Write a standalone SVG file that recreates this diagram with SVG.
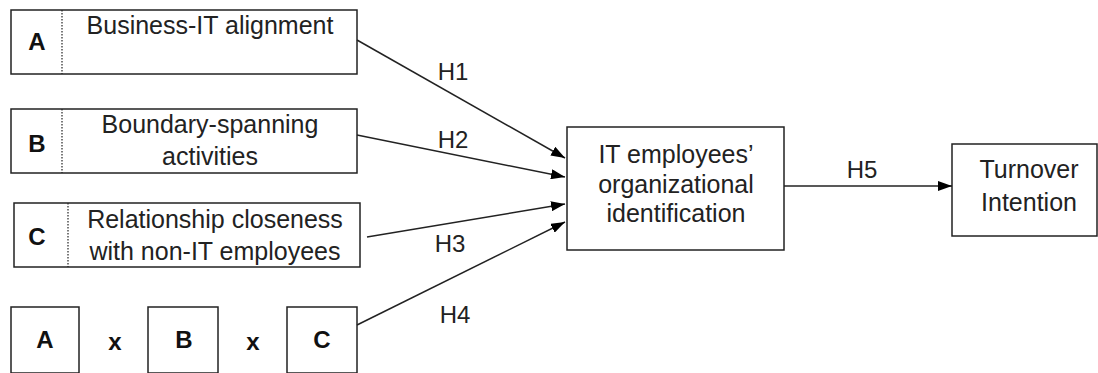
<svg xmlns="http://www.w3.org/2000/svg" width="1098" height="373" viewBox="0 0 1098 373">
<defs>
<marker id="arr" viewBox="0 0 14 10" refX="14" refY="5" markerWidth="14" markerHeight="10" markerUnits="userSpaceOnUse" orient="auto">
<path d="M0,0 L14,5 L0,10 Z" fill="#000"/>
</marker>
</defs>
<style>
.box{fill:#fff;stroke:#222;stroke-width:1.5}
.dot{stroke:#222;stroke-width:1.2;stroke-dasharray:1.5,1.5}
.t{font-family:"Liberation Sans",Arial,sans-serif;font-size:25px;fill:#222;text-anchor:middle}
.b{font-family:"Liberation Sans",Arial,sans-serif;font-size:24px;font-weight:bold;fill:#111;text-anchor:middle}
.h{font-family:"Liberation Sans",Arial,sans-serif;font-size:24px;fill:#222;text-anchor:middle}
.ln{stroke:#222;stroke-width:1.5;fill:none;marker-end:url(#arr)}
</style>
<g id="nodeA">
<rect class="box" x="11" y="10" width="346" height="64"/>
<line class="dot" x1="62" y1="10" x2="62" y2="74"/>
<text class="b" x="37" y="50">A</text>
<text class="t" x="210" y="34">Business-IT alignment</text>
</g>
<g id="nodeB">
<rect class="box" x="11" y="109" width="346" height="64"/>
<line class="dot" x1="62" y1="109" x2="62" y2="173"/>
<text class="b" x="37" y="152">B</text>
<text class="t" x="210" y="133">Boundary-spanning</text>
<text class="t" x="210" y="165">activities</text>
</g>
<g id="nodeC">
<rect class="box" x="14" y="203" width="346" height="64"/>
<line class="dot" x1="68" y1="203" x2="68" y2="267"/>
<text class="b" x="37" y="245">C</text>
<text class="t" x="215" y="228">Relationship closeness</text>
<text class="t" x="215" y="260">with non-IT employees</text>
</g>
<g id="nodeABC">
<rect class="box" x="11" y="307" width="68" height="66"/>
<text class="b" x="45" y="348">A</text>
<text class="b" x="115" y="350">x</text>
<rect class="box" x="148" y="307" width="70" height="66"/>
<text class="b" x="184" y="348">B</text>
<text class="b" x="253" y="350">x</text>
<rect class="box" x="287" y="307" width="70" height="66"/>
<text class="b" x="322" y="348">C</text>
</g>
<g id="nodeOI">
<rect class="box" x="567" y="127" width="217" height="123"/>
<text class="t" x="676" y="163">IT employees’</text>
<text class="t" x="676" y="193">organizational</text>
<text class="t" x="676" y="222">identification</text>
</g>
<g id="nodeTI">
<rect class="box" x="952" y="144" width="145" height="92"/>
<text class="t" x="1029" y="178">Turnover</text>
<text class="t" x="1029" y="211">Intention</text>
</g>
<g id="connectors">
<line class="ln" x1="357" y1="40" x2="565" y2="158"/>
<line class="ln" x1="357" y1="135" x2="565" y2="177"/>
<line class="ln" x1="367" y1="237" x2="565" y2="204"/>
<line class="ln" x1="357" y1="325" x2="565" y2="222"/>
<line class="ln" x1="784" y1="186" x2="952" y2="186"/>
<text class="h" x="453" y="80">H1</text>
<text class="h" x="453" y="148">H2</text>
<text class="h" x="450" y="252">H3</text>
<text class="h" x="455" y="323">H4</text>
<text class="h" x="862" y="178">H5</text>
</g>
</svg>
